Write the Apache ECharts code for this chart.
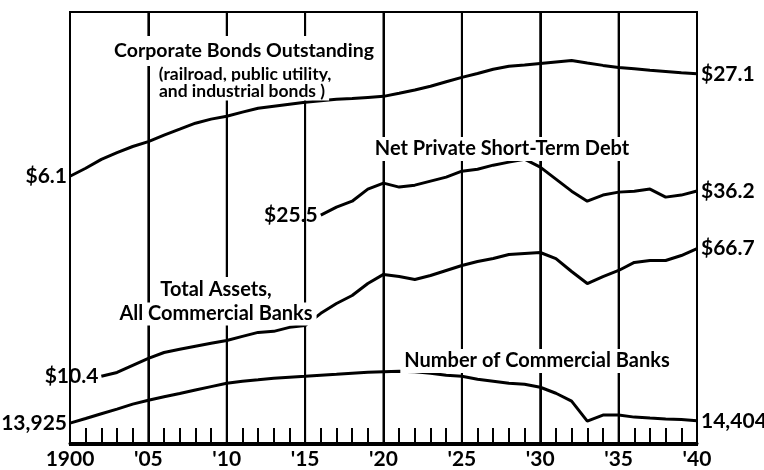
<!DOCTYPE html>
<html>
<head>
<meta charset="utf-8">
<script src="https://cdn.jsdelivr.net/npm/echarts@6/dist/echarts.min.js"></script>
<style>
  html, body { margin: 0; padding: 0; background: #fff; }
  #chart { width: 764px; height: 470px; }
</style>
</head>
<body>
<div id="chart"></div>
<script>
// years on the x axis, 1900 - 1940
var years = [];
for (var y = 1900; y <= 1940; y++) years.push(y);

// corporate bonds outstanding, billions of dollars (1900-1940)
var bonds = [6.1, 6.85, 7.8, 8.6, 9.4, 10.1, 11.1, 12.1, 13.2, 14.0,
    14.6, 15.5, 16.4, 16.9, 17.4, 17.9, 18.3, 18.7, 18.9, 19.2,
    19.5, 20.4, 21.4, 22.6, 24.1, 25.7, 27.2, 28.9, 30.2, 30.8,
    31.5, 32.2, 32.9, 31.7, 30.6, 29.7, 29.1, 28.5, 28.0, 27.5,
    27.1];

// net private short-term debt, billions (1916-1940)
var debt = [25.5, 28.6, 31.2, 37.2, 40.6, 38.3, 39.4, 41.8, 44.3, 48.3,
    49.7, 52.7, 55.1, 57.5, 51.2, 43.0, 36.1, 31.2, 34.1, 35.6,
    36.1, 37.2, 33.1, 34.1, 36.2];

// total assets, all commercial banks, billions (1902-1940)
var assets = [10.4, 11.0, 12.2, 13.5, 14.7, 15.4, 16.1, 16.8,
    17.5, 18.6, 19.7, 20.0, 21.2, 21.8, 26.0, 30.0, 33.7, 40.1,
    45.8, 44.4, 42.5, 45.1, 48.5, 52.1, 55.3, 57.7, 61.2, 62.1,
    63.0, 57.7, 47.8, 40.1, 44.4, 48.5, 54.5, 56.1, 56.1, 60.3,
    66.7];

// number of commercial banks (1900-1940)
var banks = [13925, 14900, 15960, 17060, 18340, 19420, 20410, 21430, 22530, 23660,
    24840, 25580, 26140, 26720, 27110, 27500, 27910, 28310, 28730, 29140,
    29350, 29570, 29350, 28730, 27910, 27500, 26330, 25580, 24840, 24490,
    23450, 21500, 19150, 14330, 15640, 15640, 15190, 14970, 14760, 14650,
    14404];

// years that get a full-height grid line
var gridYears = [1905, 1910, 1915, 1920, 1925, 1930, 1935];

var startLabels = ['$6.1', '$25.5', '$10.4', '13,925'];
var endLabels = ['$27.1', '$36.2', '$66.7', '14,404'];

var FONT = "Lato, 'Noto Sans', sans-serif";

// ratio chart: every series on its own log axis, same px per decade
var TOP = 12, BOTTOM = 445, PX_DECADE = 159;
function logExtent(v, yPx) {
    var lo = Math.log10(v) - (BOTTOM - yPx) / PX_DECADE;
    var hi = lo + (BOTTOM - TOP) / PX_DECADE;
    return { min: Math.pow(10, lo), max: Math.pow(10, hi) };
}
var extents = [logExtent(6.1, 177), logExtent(25.5, 216), logExtent(10.4, 378), logExtent(13925, 425)];

function pad(arr) {
    // align a series that starts late with the 1900-1940 categories
    var out = [];
    for (var i = 0; i < years.length - arr.length; i++) out.push(null);
    return out.concat(arr);
}

var lists = [pad(bonds), pad(debt), pad(assets), pad(banks)];

var myChart = echarts.init(document.getElementById('chart'));

var series = lists.map(function (list, k) {
    var first = list.findIndex(function (v) { return v != null; });
    return {
        type: 'line',
        yAxisIndex: k,
        data: list.map(function (v, i) {
            if (i !== first) return v;
            return {
                value: v,
                label: {
                    show: true, position: 'left', distance: 3,
                    formatter: startLabels[k],
                    color: '#000', fontFamily: FONT, fontSize: 21, fontWeight: 'bold'
                }
            };
        }),
        symbol: 'circle',
        symbolSize: 0,
        showSymbol: true,
        showAllSymbol: true,
        connectNulls: false,
        lineStyle: { color: '#000', width: 3 },
        itemStyle: { color: '#000' },
        label: { show: false },
        endLabel: {
            show: true, distance: 4,
            formatter: endLabels[k],
            color: '#000', fontFamily: FONT, fontSize: 21, fontWeight: 'bold'
        },
        animation: false,
        z: 3
    };
});

var yAxes = extents.map(function (e) {
    return { type: 'log', logBase: 10, min: e.min, max: e.max, show: false };
});

// annotations; the white box behind each one breaks the grid lines as in the original
function note(text, cx, cy, size, padding) {
    return {
        type: 'text', x: cx, y: cy, z: 50,
        style: {
            text: text, align: 'center', verticalAlign: 'middle',
            font: 'bold ' + size + 'px ' + FONT, fill: '#000',
            backgroundColor: '#fff', padding: padding
        }
    };
}

var option = {
    backgroundColor: '#fff',
    animation: false,
    grid: {
        left: 70, right: 67, top: TOP, bottom: 470 - BOTTOM,
        show: true, borderColor: '#000', borderWidth: 2
    },
    xAxis: {
        type: 'category',
        data: years,
        boundaryGap: false,
        axisLine: { lineStyle: { color: '#000', width: 3 } },
        axisTick: { show: true, inside: true, length: 15, interval: 0, lineStyle: { color: '#000', width: 2 } },
        axisLabel: {
            interval: 4, margin: 6, color: '#000',
            fontFamily: FONT, fontSize: 21, fontWeight: 'bold',
            formatter: function (v) { return v == 1900 ? '1900' : "'" + String(v).slice(2); }
        },
        splitLine: { show: true, interval: 4, lineStyle: { color: '#000', width: 2 } }
    },
    yAxis: yAxes,
    series: series
};

myChart.setOption(option);

// frame and grid lines again on top, placed through the x axis scale
var left = myChart.convertToPixel({ xAxisIndex: 0 }, 0);
var right = myChart.convertToPixel({ xAxisIndex: 0 }, years.length - 1);
var overlay = [{
    type: 'rect', z: 40,
    shape: { x: left, y: TOP, width: right - left, height: BOTTOM - TOP },
    style: { fill: null, stroke: '#000', lineWidth: 2 }
}];
gridYears.forEach(function (yr) {
    var x = myChart.convertToPixel({ xAxisIndex: 0 }, years.indexOf(yr));
    overlay.push({
        type: 'line', z: 40,
        shape: { x1: x, y1: TOP, x2: x, y2: BOTTOM },
        style: { stroke: '#000', lineWidth: 2 }
    });
});

myChart.setOption({
    graphic: overlay.concat([
        note('Corporate Bonds Outstanding', 244, 51, 19.5, [6, 6, 4, 6]),
        note('(railroad, public utility,', 245, 74, 17.5, [3, 4, 1, 4]),
        note('and industrial bonds )', 242, 91, 17.5, [1, 4, 0, 4]),
        note('Net Private Short-Term Debt', 502, 149, 20, [2, 4, 2, 4]),
        note('Total Assets,', 216, 290, 20, [4, 6, 2, 6]),
        note('All Commercial Banks', 216, 314, 20, [2, 4, 1, 4]),
        note('Number of Commercial Banks', 537, 361, 20, [2, 4, 2, 4])
    ])
});
</script>
</body>
</html>
